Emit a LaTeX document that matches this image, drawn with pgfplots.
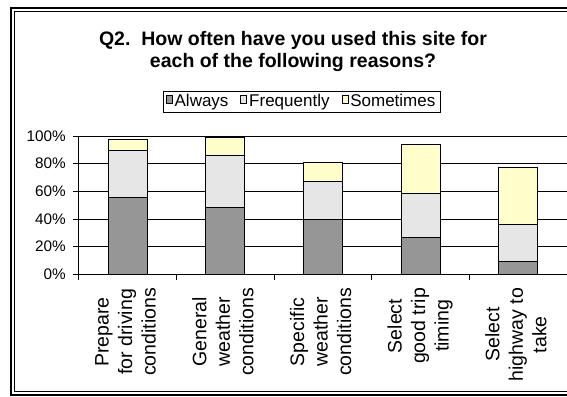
\documentclass[border=0pt]{standalone}
\usepackage{fontspec}
\setmainfont{Liberation Sans}
\usepackage{pgfplots}
\pgfplotsset{compat=1.18}
\definecolor{alw}{HTML}{969696}
\definecolor{frq}{HTML}{E6E6E6}
\definecolor{smt}{HTML}{FFFFCC}
\pgfplotsset{/pgfplots/ybar legend/.style={/pgfplots/legend image code/.code={\path[##1,/tikz/.cd,draw=none] (0pt,-5pt) rectangle (10.5pt,5pt);\draw[black,line width=0.6pt] (0pt,-5pt) rectangle (10.5pt,5pt);}}}
\newcommand{\xl}[3]{\fontsize{19.5}{23.5}\selectfont\begin{tabular}{@{}c@{}}#1\\#2\\#3\end{tabular}}
\begin{document}
\begin{tikzpicture}[x=1pt,y=1pt]
\useasboundingbox (0,0) rectangle (567,396);
\fill[white] (0,0) rectangle (567,396);
\draw[line width=2pt] (11,1.5) rectangle (600,388);
\draw[line width=0.8pt] (14.5,5) rectangle (600,384.5);
\node[anchor=base, font=\fontsize{19.5}{22}\selectfont\bfseries] at (293,350) {Q2.\ \ How often have you used this site for};
\node[anchor=base, font=\fontsize{19.5}{22}\selectfont\bfseries] at (293,328.3) {each of the following reasons?};
\begin{axis}[
  at={(78.7pt,121.7pt)}, anchor=south west, scale only axis,
  width=488.3pt, height=138.3pt,
  ybar stacked, bar width=39pt,
  xmin=-0.5, xmax=4.5, ymin=0, ymax=100,
  axis x line*=bottom, axis y line*=left,
  axis line style={black, line width=0.75pt},
  ytick={0,20,...,100},
  yticklabel={\pgfmathprintnumber{\tick}\%},
  ymajorgrids, grid style={black, line width=0.75pt},
  xtick={-0.5,0.5,...,4.5}, xticklabels={},
  tick align=outside, major tick length=5.5pt,
  tick style={black, line width=0.75pt},
  xticklabel shift=13.5pt,
  extra x ticks={0,1,2,3,4},
  extra x tick labels={\xl{Prepare}{for driving}{conditions},\xl{General}{weather}{conditions},\xl{Specific}{weather}{conditions},\xl{Select}{good trip}{timing},\xl{Select}{highway to}{take}},
  extra x tick style={major tick length=0pt, tick label style={rotate=90, anchor=east, inner sep=0pt}},
  yticklabel style={font=\fontsize{15.3}{18}\selectfont, xshift=-4pt},
  /pgf/number format/assume math mode=true,
  legend style={at={(0.4565,1.2495)}, anchor=center, legend columns=3, draw=black, line width=0.75pt,
    font=\fontsize{17}{19}\selectfont, inner xsep=3pt, inner ysep=2.5pt,
    /tikz/every even column/.append style={column sep=10pt},
    nodes={inner xsep=2pt, inner ysep=1pt}},
]
\addplot[fill=alw, draw=black, line width=0.75pt] coordinates {(0,55.7) (1,48.4) (2,39.8) (3,26.8) (4,9.4)};
\addlegendentry{Always}
\addplot[fill=frq, draw=black, line width=0.75pt] coordinates {(0,34) (1,37.9) (2,27.2) (3,31.8) (4,26.8)};
\addlegendentry{Frequently}
\addplot[fill=smt, draw=black, line width=0.75pt] coordinates {(0,7.9) (1,12.6) (2,14) (3,35.4) (4,40.9)};
\addlegendentry{Sometimes}
\end{axis}
\end{tikzpicture}
\end{document}
